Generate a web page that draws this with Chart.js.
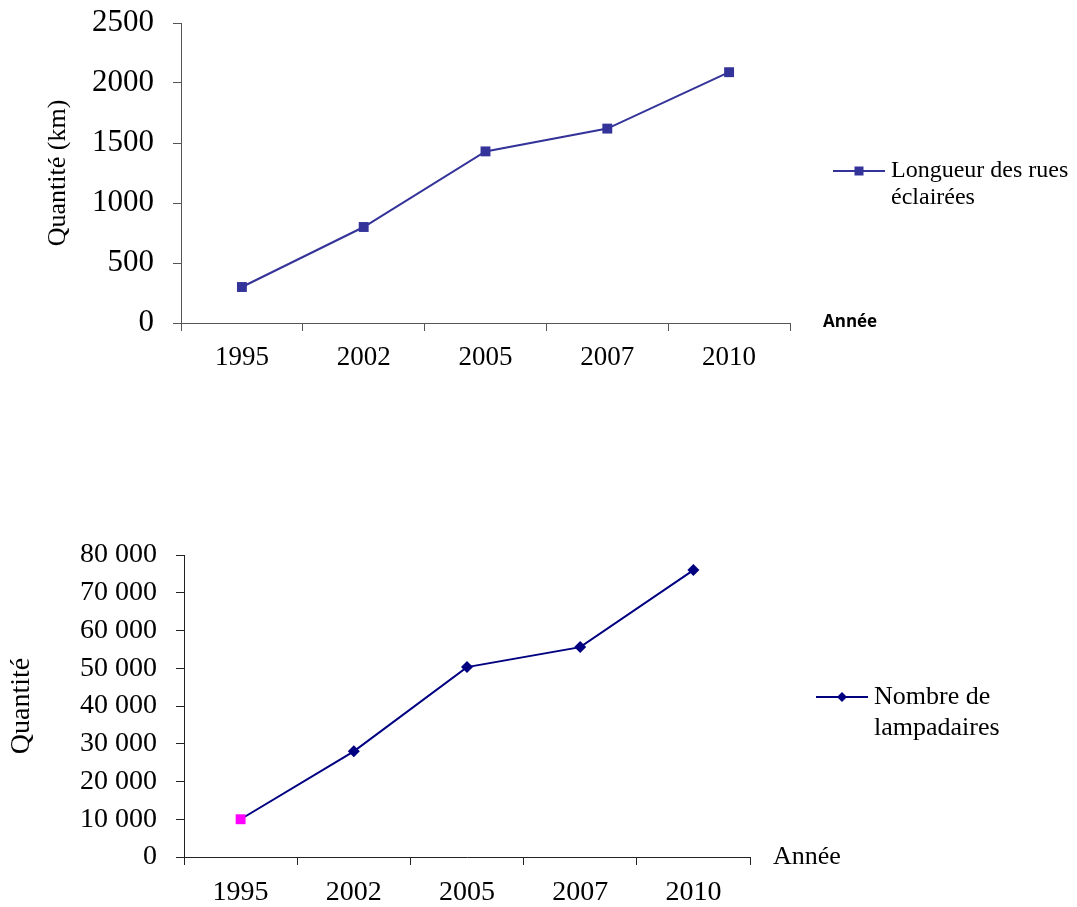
<!DOCTYPE html>
<html>
<head>
<meta charset="utf-8">
<script src="https://cdn.jsdelivr.net/npm/chart.js@4/dist/chart.umd.min.js"></script>
<style>
  body { margin: 0; background: #fff; }
  .box { position: absolute; left: 0; width: 1077px; }
  #box1 { top: 0; height: 400px; }
  #box2 { top: 440px; height: 467px; }
</style>
</head>
<body>
<div class="box" id="box1"><canvas id="rues"></canvas></div>
<div class="box" id="box2"><canvas id="lampes"></canvas></div>
<script>
// data
var annees = ['1995', '2002', '2005', '2007', '2010'];
var longueurRues = [300, 800, 1430, 1620, 2090];
var nombreLampadaires = [10000, 28000, 50300, 55600, 76000];

var serif = "'Times New Roman', 'Liberation Serif', serif";

// petite légende + label "Année" dessinés à la main
function extras(cfg) {
  return {
    id: 'extras',
    afterDraw: function (chart) {
      var ctx = chart.ctx;
      var a = chart.chartArea;
      ctx.save();
      // Année
      ctx.fillStyle = '#000';
      ctx.font = cfg.anneeFont;
      ctx.textBaseline = 'middle';
      ctx.textAlign = 'left';
      ctx.fillText('Année', a.right + cfg.anneeDx, a.bottom + cfg.anneeDy);
      // légende
      var x0 = a.right + cfg.legDx;
      var y0 = cfg.legY;
      ctx.strokeStyle = cfg.color;
      ctx.lineWidth = 2;
      ctx.beginPath();
      ctx.moveTo(x0, y0);
      ctx.lineTo(x0 + 52, y0);
      ctx.stroke();
      ctx.fillStyle = cfg.color;
      var cx = x0 + 26;
      if (cfg.marker === 'rect') {
        ctx.fillRect(cx - 4.5, y0 - 4.5, 9, 9);
      } else {
        ctx.beginPath();
        ctx.moveTo(cx, y0 - 5);
        ctx.lineTo(cx + 5, y0);
        ctx.lineTo(cx, y0 + 5);
        ctx.lineTo(cx - 5, y0);
        ctx.closePath();
        ctx.fill();
      }
      ctx.fillStyle = '#000';
      ctx.font = cfg.legFont;
      for (var i = 0; i < cfg.lines.length; i++) {
        ctx.fillText(cfg.lines[i], x0 + 58, y0 + i * cfg.legLH);
      }
      ctx.restore();
    }
  };
}

/* premier graphique */
const ctx1 = document.getElementById('rues').getContext('2d');
const chart1 = new Chart(ctx1, {
  type: 'line',
  data: {
    labels: annees,
    datasets: [
      {
        label: 'Longueur des rues éclairées',
        data: longueurRues,
        borderColor: '#333399',
        backgroundColor: '#333399',
        borderWidth: 2,
        pointStyle: 'rect',
        pointRadius: 7,
        pointBorderWidth: 0,
        tension: 0,
      },
    ],
  },
  options: {
    responsive: true,
    maintainAspectRatio: false,
    animation: false,
    layout: { padding: { left: 0, top: 23, right: 287, bottom: 0 } },
    plugins: { legend: { display: false }, tooltip: { enabled: false } },
    scales: {
      x: {
        offset: true,
        grid: { offset: true, drawOnChartArea: false, tickLength: 8, color: '#555' },
        border: { color: '#555', width: 1 },
        ticks: { color: '#000', padding: 11, font: { family: serif, size: 27 } },
        afterFit: function (s) { s.height = 77; },
      },
      y: {
        min: 0,
        max: 2500,
        grid: { drawOnChartArea: false, tickLength: 8, color: '#555' },
        border: { color: '#555', width: 1 },
        ticks: {
          stepSize: 500,
          color: '#000',
          padding: 19,
          font: { family: serif, size: 31 },
          callback: function (v) { return String(v); },
        },
        title: {
          display: true,
          text: 'Quantité (km)',
          color: '#000',
          font: { family: serif, size: 26 },
          padding: { top: 43, bottom: 0 },
        },
        afterFit: function (s) {
          s.width = 181;
          s.paddingTop = 0;
          s.paddingBottom = 0;
        },
      },
    },
  },
  plugins: [extras({
    color: '#333399', marker: 'rect',
    anneeFont: "bold 17px 'Open Sans', sans-serif", anneeDx: 33, anneeDy: -1,
    legDx: 43, legY: 171, legFont: '24px ' + serif, legLH: 27,
    lines: ['Longueur des rues', 'éclairées'],
  })],
});

/* deuxième graphique */
const ctx2 = document.getElementById('lampes').getContext('2d');
const chart2 = new Chart(ctx2, {
  type: 'line',
  data: {
    labels: annees,
    datasets: [
      {
        label: 'Nombre de lampadaires',
        data: nombreLampadaires,
        borderColor: '#000080',
        backgroundColor: '#000080',
        borderWidth: 2,
        pointStyle: ['rect', 'rectRot', 'rectRot', 'rectRot', 'rectRot'],
        pointRadius: [7, 6, 6, 6, 6],
        pointBackgroundColor: ['#FF00FF', '#000080', '#000080', '#000080', '#000080'],
        pointBorderWidth: 0,
        tension: 0,
      },
    ],
  },
  options: {
    responsive: true,
    maintainAspectRatio: false,
    animation: false,
    layout: { padding: { left: 0, top: 115, right: 327, bottom: 0 } },
    plugins: { legend: { display: false }, tooltip: { enabled: false } },
    scales: {
      x: {
        offset: true,
        grid: { offset: true, drawOnChartArea: false, tickLength: 8, color: '#222' },
        border: { color: '#222', width: 1 },
        ticks: { color: '#000', padding: 11, font: { family: serif, size: 28 } },
        afterFit: function (s) { s.height = 50; },
      },
      y: {
        min: 0,
        max: 80000,
        grid: { drawOnChartArea: false, tickLength: 8, color: '#222' },
        border: { color: '#222', width: 1 },
        ticks: {
          stepSize: 10000,
          color: '#000',
          padding: 19,
          font: { family: serif, size: 28 },
          callback: function (v) {
            return String(v).replace(/\B(?=(\d{3})+(?!\d))/g, ' ');
          },
        },
        title: {
          display: true,
          text: 'Quantité',
          color: '#000',
          font: { family: serif, size: 28 },
          padding: { top: 5, bottom: 0 },
        },
        afterFit: function (s) { s.width = 184; },
      },
    },
  },
  plugins: [extras({
    color: '#000080', marker: 'diamond',
    anneeFont: '26px ' + serif, anneeDx: 23, anneeDy: 0,
    legDx: 66, legY: 257, legFont: '26px ' + serif, legLH: 31,
    lines: ['Nombre de', 'lampadaires'],
  })],
});
</script>
</body>
</html>
